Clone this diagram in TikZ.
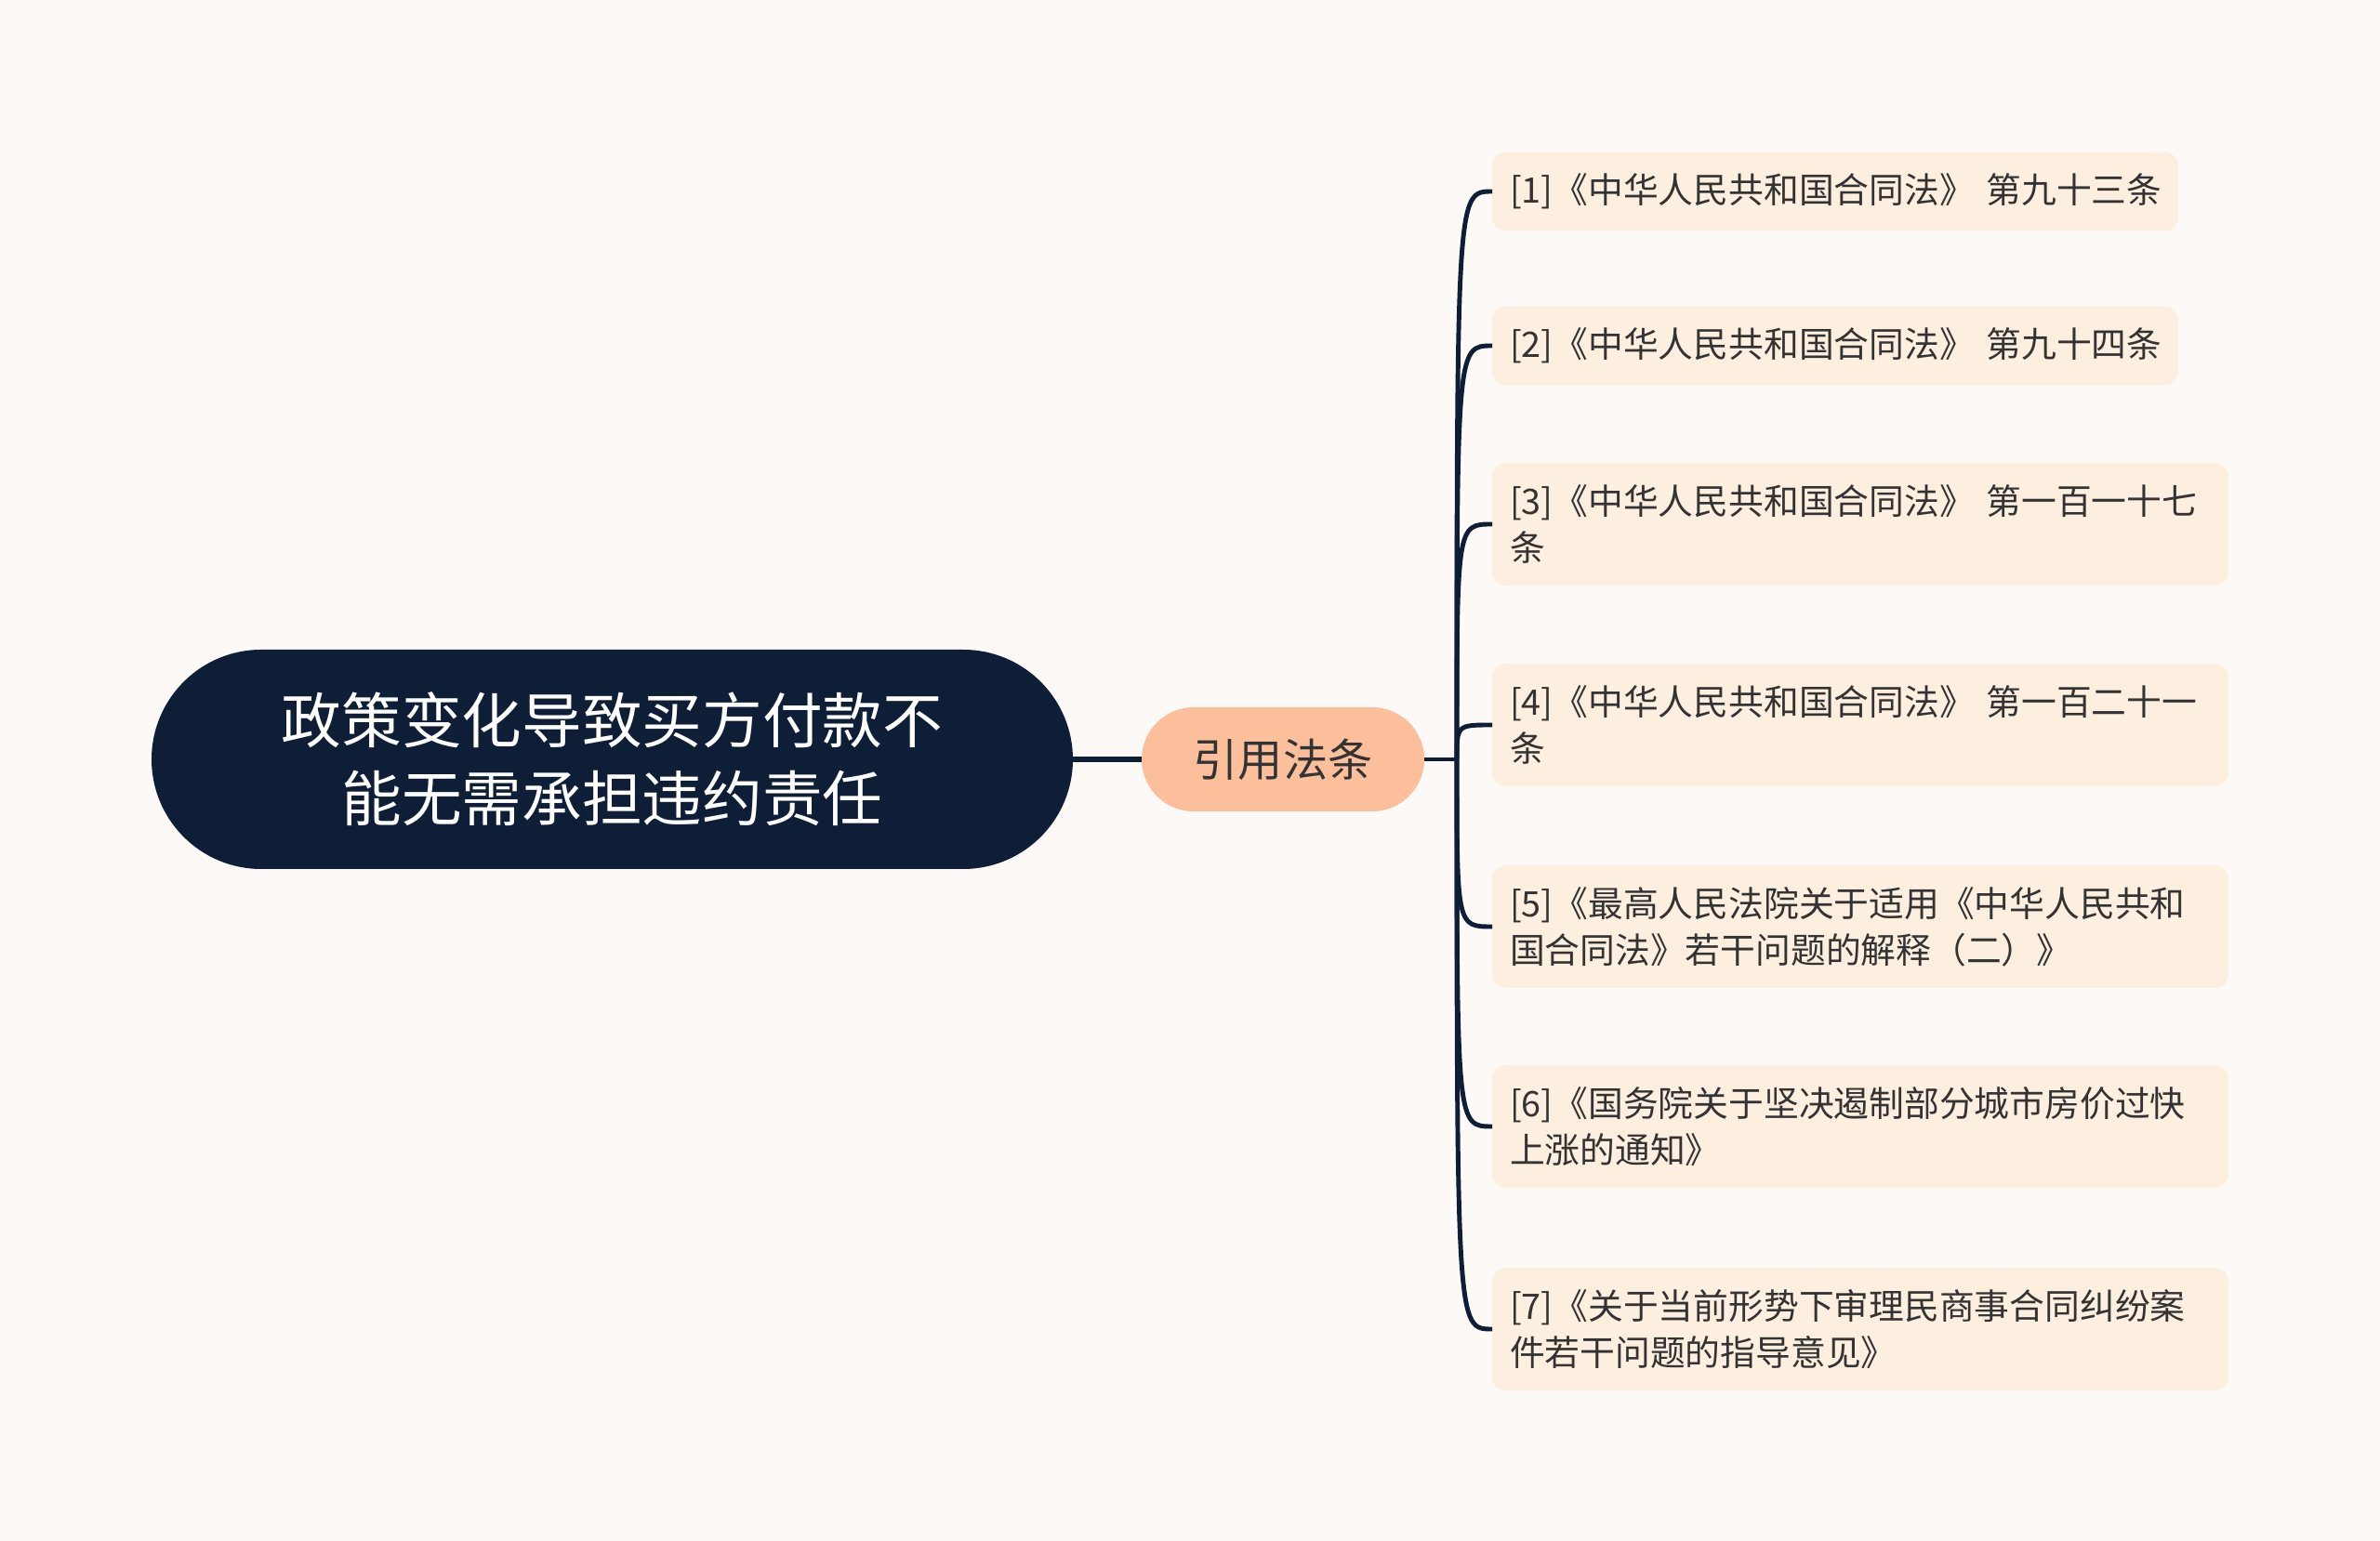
\documentclass[tikz,border=0pt]{standalone}
\usepackage{fontspec}
\setmainfont{Noto Sans CJK SC}
\definecolor{bgcol}{HTML}{FDF9F6}
\definecolor{navy}{HTML}{0E1E37}
\definecolor{peach}{HTML}{FBBF9C}
\definecolor{cream}{HTML}{FDEFDF}
\definecolor{ink}{HTML}{333333}
\tikzset{%
    every node/.style={inner sep=0pt, outer sep=0pt},
    rootnode/.style={fill=navy, text=white, rounded corners=1.18cm,
    	minimum width=9.91cm, minimum height=2.36cm, align=center,
    	font=\fontsize{18.4pt}{24pt}\selectfont},
    midnode/.style={fill=peach, text=ink, rounded corners=0.56cm,
    	minimum width=3.04cm, minimum height=1.12cm,
    	font=\fontsize{13.7pt}{16pt}\selectfont},
    leaf/.style={fill=cream, text=ink, rounded corners=0.15cm, anchor=west,
    	inner xsep=0.19cm, align=left, text width=7.54cm, minimum height=1.32cm,
    	font=\fontsize{10.75pt}{14.2pt}\selectfont},
    leafshort/.style={leaf, text width=7.0cm, minimum height=0.85cm},
    link/.style={draw=navy, line width=1.4pt}
}
\begin{document}
\begin{tikzpicture}
  \fill[bgcol] (0cm, 0cm) rectangle (25.6cm, -16.58cm);
  \node (root) [rootnode] at (6.585cm, -8.17cm) {政策变化导致买方付款不\\能无需承担违约责任};
  \node (cite) [midnode] at (13.80cm, -8.17cm) {引用法条};
  \coordinate (hub) at (15.67cm, -8.17cm);

  \node (l1) [leafshort] at (16.05cm, -2.06cm) {[1]《中华人民共和国合同法》~第九十三条};
  \node (l2) [leafshort] at (16.05cm, -3.72cm) {[2]《中华人民共和国合同法》~第九十四条};
  \node (l3) [leaf] at (16.05cm, -5.64cm) {[3]《中华人民共和国合同法》 第一百一十七\\条};
  \node (l4) [leaf] at (16.05cm, -7.80cm) {[4]《中华人民共和国合同法》 第一百二十一\\条};
  \node (l5) [leaf] at (16.05cm, -9.97cm) {[5]《最高人民法院关于适用《中华人民共和\\国合同法》若干问题的解释（二）》};
  \node (l6) [leaf] at (16.05cm, -12.12cm) {[6]《国务院关于坚决遏制部分城市房价过快\\上涨的通知》};
  \node (l7) [leaf] at (16.05cm, -14.30cm) {[7]《关于当前形势下审理民商事合同纠纷案\\件若干问题的指导意见》};

  \draw [link, line width=1.8pt] (root) -- (cite);
  \draw [link] (cite) -- (hub);
  \draw [link] (hub) .. controls (hub |- l1.west) .. (l1.west);
  \draw [link] (hub) .. controls (hub |- l2.west) .. (l2.west);
  \draw [link] (hub) .. controls (hub |- l3.west) .. (l3.west);
  \draw [link] (hub) .. controls (hub |- l4.west) .. (l4.west);
  \draw [link] (hub) .. controls (hub |- l5.west) .. (l5.west);
  \draw [link] (hub) .. controls (hub |- l6.west) .. (l6.west);
  \draw [link] (hub) .. controls (hub |- l7.west) .. (l7.west);
\end{tikzpicture}
\end{document}
